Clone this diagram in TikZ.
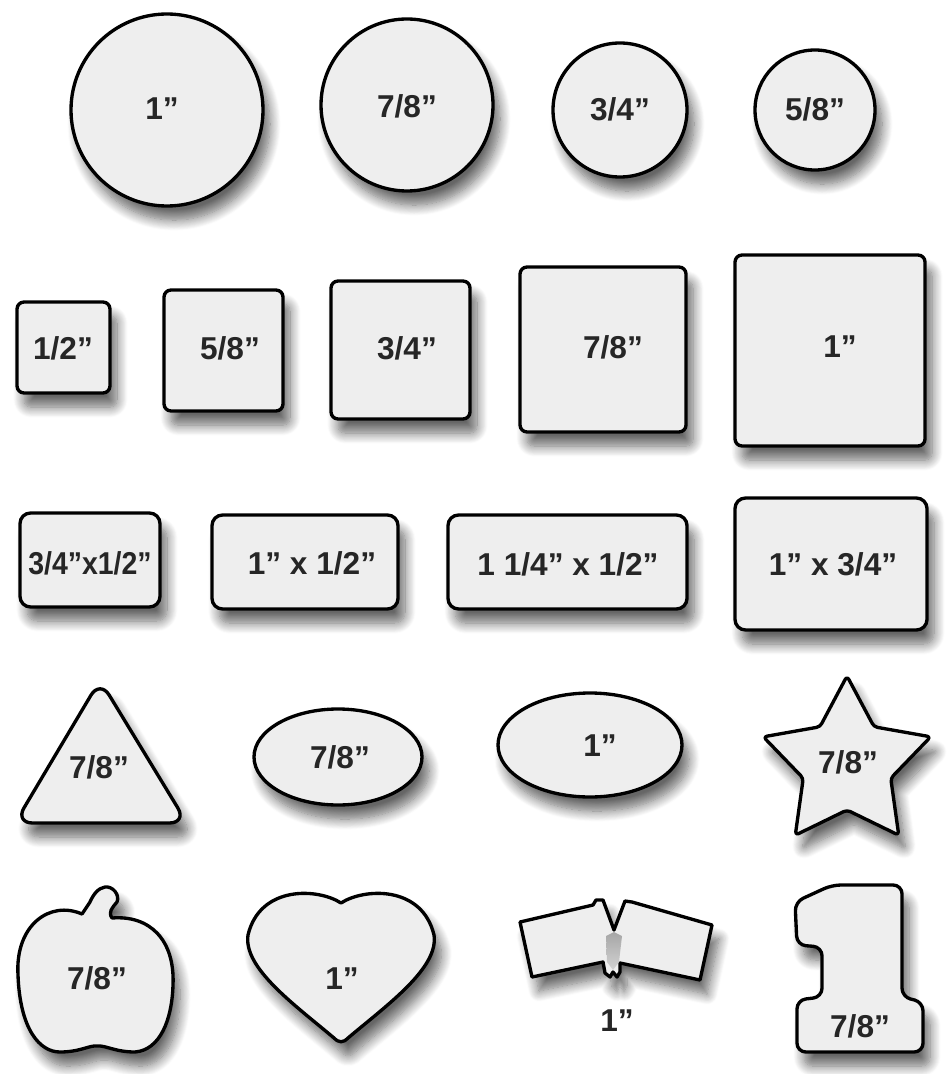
\documentclass[tikz,border=0pt]{standalone}
\usepackage{fontspec}
\setmainfont{Liberation Sans}
\usetikzlibrary{shadows.blur}
\definecolor{padfill}{HTML}{EEEEEE}
\definecolor{padtext}{HTML}{262626}
\begin{document}
\begin{tikzpicture}[x=0.02cm,y=-0.02cm,
  pad/.style={draw=black, line width=1.9pt, line join=round, fill=padfill,
    blur shadow={shadow xshift=4pt, shadow yshift=-8pt, shadow blur radius=6pt, shadow blur steps=12, shadow opacity=60}},
  size/.style={font=\fontsize{18}{20}\selectfont\bfseries, text=padtext, inner sep=0pt}]
\useasboundingbox (0,0) rectangle (952,1074);
% circles
\draw[pad] (167,110) circle[radius=96];
\draw[pad] (407,105) circle[radius=86];
\draw[pad] (620,110) circle[radius=67];
\draw[pad] (815,110) circle[radius=60];
\node[size] (c1) at (162,109) {1”};
\node[size] (c2) at (407,106) {7/8”};
\node[size] (c3) at (620,109) {3/4”};
\node[size] (c4) at (815,109) {5/8”};
% squares
\draw[pad,rounded corners=4pt] (17,302) rectangle (110,393);
\draw[pad,rounded corners=4pt] (164,290) rectangle (283,411);
\draw[pad,rounded corners=4pt] (331,281) rectangle (470,419);
\draw[pad,rounded corners=4pt] (520,267) rectangle (686,432);
\draw[pad,rounded corners=4pt] (735,255) rectangle (925,446);
\node[size] (s1) at (63,348) {1/2”};
\node[size] (s2) at (230,348) {5/8”};
\node[size] (s3) at (407,348) {3/4”};
\node[size] (s4) at (613,347) {7/8”};
\node[size] (s5) at (840,347) {1”};
% rectangles
\draw[pad,rounded corners=6pt] (20,513) rectangle (160,607);
\draw[pad,rounded corners=6pt] (212,515) rectangle (398,609);
\draw[pad,rounded corners=6pt] (448,515) rectangle (687,609);
\draw[pad,rounded corners=6pt] (735,498) rectangle (927,630);
\node[size] (r1) at (90,563) {\scalebox{0.9}[1]{3/4”x1/2”}};
\node[size] (r2) at (312,563) {1” x 1/2”};
\node[size] (r3) at (568,564) {1 1/4” x 1/2”};
\node[size] (r4) at (833,564) {1” x 3/4”};
% triangle, ovals, star
\draw[pad,rounded corners=10pt] (100,680) -- (187,823) -- (15,823) -- cycle;
\draw[pad] (338,757) ellipse[x radius=84, y radius=48];
\draw[pad] (590,745) ellipse[x radius=92, y radius=52];
\begin{scope}[shift={(847,764)}]
\draw[pad,rounded corners=2pt] (270:88) -- (306:46) -- (342:88) -- (18:46) -- (54:88)
  -- (90:46) -- (126:88) -- (162:46) -- (198:88) -- (234:46) -- cycle;
\end{scope}
\node[size] (tri) at (99,767) {7/8”};
\node[size] (ov1) at (340,757) {7/8”};
\node[size] (ov2) at (600,746) {1”};
\node[size] (star) at (848,762) {7/8”};
% apple
\draw[pad] (82,914) .. controls (50,900) and (15,925) .. (18,975)
  .. controls (20,1030) and (40,1052) .. (60,1052)
  .. controls (80,1052) and (90,1045) .. (97,1046)
  .. controls (105,1045) and (115,1052) .. (135,1052)
  .. controls (160,1050) and (172,1020) .. (173,985)
  .. controls (175,940) and (150,915) .. (112,918)
  .. controls (108,912) and (112,908) .. (117,902)
  .. controls (120,895) and (113,886) .. (105,887)
  .. controls (98,888) and (93,895) .. (90,902) -- cycle;
% heart
\draw[pad] (341,903) .. controls (318,888) and (260,885) .. (248,935)
  .. controls (243,968) and (295,1005) .. (334,1038)
  .. controls (339,1043) and (343,1043) .. (348,1038)
  .. controls (387,1005) and (439,968) .. (434,935)
  .. controls (422,885) and (364,888) .. (341,903) -- cycle;
% ribbon
\draw[pad] (520,922) -- (593,905) -- (596,900) -- (603,900) -- (614,930)
  -- (625,901) -- (632,902) -- (712,925) -- (700,980) -- (620,963) -- (620,972)
  -- (617,977) -- (613,972) -- (610,977) -- (605,973) -- (603,962) -- (532,977) -- cycle;
\shade[top color=gray!70, bottom color=gray!35] (606,936) -- (614,932) -- (622,936) -- (619,962) -- (613,970) -- (607,962) -- cycle;
% number one
\draw[pad,rounded corners=5pt] (795,902) -- (832,885) -- (902,885) -- (902,997) -- (923,1002)
  -- (923,1052) -- (797,1052) -- (797,1000) -- (822,997) -- (822,947) -- (797,945) -- cycle;
\node[size] (apple) at (97,978) {7/8”};
\node[size] (heart) at (342,979) {1”};
\node[size] (ribbon) at (617,1021) {1”};
\node[size] (one) at (860,1026) {7/8”};
\end{tikzpicture}
\end{document}
